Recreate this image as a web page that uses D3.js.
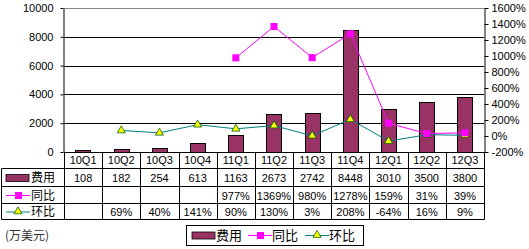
<!DOCTYPE html>
<html><head><meta charset="utf-8">
<script src="https://cdn.jsdelivr.net/npm/d3@7"></script>
<style>
body{margin:0;background:#fff;}
text{font-family:"Liberation Sans","DejaVu Sans",sans-serif;}
.cjk{font-family:"Noto Sans CJK SC",sans-serif;}
</style></head>
<body><svg id="c" width="529" height="249"></svg>
<script>
const categories = ["10Q1","10Q2","10Q3","10Q4","11Q1","11Q2","11Q3","11Q4","12Q1","12Q2","12Q3"];
const costValues = [108,182,254,613,1163,2673,2742,8448,3010,3500,3800];
const yoyValues = [null,null,null,null,977,1369,980,1278,159,31,39];
const qoqValues = [null,69,40,141,90,130,3,208,-64,16,9];
const leftTicks = [0,2000,4000,6000,8000,10000];
const rightTicks = [-200,0,200,400,600,800,1000,1200,1400,1600];
const seriesNames = ["费用","同比","环比"];
const unitLabel = "(万美元)";

const svg = d3.select("#c");
const L = 64, R = 484, T = 8, B = 152;
const x = d3.scaleBand().domain(categories).range([L, R]);
const yL = d3.scaleLinear().domain([0,10000]).range([B, T]);
const yR = d3.scaleLinear().domain([-200,1600]).range([B, T]);
const barColor = "#993366", yoyColor = "#FF00FF", qoqColor = "#008080";

// gridlines
svg.append("g").selectAll("line").data(leftTicks.filter(d=>d>0 && d<10000)).join("line")
  .attr("x1",L).attr("x2",R).attr("y1",d=>Math.round(yL(d))+0.5).attr("y2",d=>Math.round(yL(d))+0.5)
  .attr("stroke","#000");
svg.append("line").attr("x1",L).attr("x2",R).attr("y1",T+0.5).attr("y2",T+0.5).attr("stroke","#888");

// left axis
const gl = svg.append("g").attr("transform",`translate(${L-0.5},0)`)
  .call(d3.axisLeft(yL).tickValues(leftTicks).tickSize(3).tickSizeOuter(0).tickFormat(d3.format("d")));
gl.select(".domain").attr("stroke","#000");
gl.selectAll("text").attr("font-size",11).attr("fill","#000").attr("x",-10);
// right axis
const gr = svg.append("g").attr("transform",`translate(${R+0.5},0)`)
  .call(d3.axisRight(yR).tickValues(rightTicks).tickSize(4).tickSizeOuter(0).tickFormat(d=>d+"%"));
gr.select(".domain").attr("stroke","#000");
gr.selectAll("text").attr("font-size",11).attr("fill","#000").attr("x",7);

// bars
const bw = x.bandwidth()*0.4;
svg.append("g").selectAll("rect").data(costValues).join("rect")
  .attr("x",(d,i)=>Math.round(x(categories[i])+x.bandwidth()/2-bw/2)+0.5)
  .attr("y",d=>Math.round(yL(d))+0.5)
  .attr("width",Math.round(bw))
  .attr("height",d=>Math.max(0,B-Math.round(yL(d))))
  .attr("fill",barColor).attr("stroke","#000");

// lines
const cx = i => x(categories[i]) + x.bandwidth()/2;
const yoyPts = yoyValues.map((v,i)=>v==null?null:[cx(i),yR(v)]).filter(Boolean);
const qoqPts = qoqValues.map((v,i)=>v==null?null:[cx(i),yR(v)]).filter(Boolean);
svg.append("path").attr("d",d3.line()(qoqPts)).attr("fill","none").attr("stroke",qoqColor).attr("stroke-width",1);
svg.append("path").attr("d",d3.line()(yoyPts)).attr("fill","none").attr("stroke",yoyColor).attr("stroke-width",1);
const tri = d3.symbol().type(d3.symbolTriangle).size(28);
svg.append("g").selectAll("path").data(qoqPts).join("path")
  .attr("transform",d=>`translate(${d[0]},${d[1]})`).attr("d",tri())
  .attr("fill","#FFFF00").attr("stroke","#006000").attr("stroke-width",0.8);
svg.append("g").selectAll("rect").data(yoyPts).join("rect")
  .attr("x",d=>d[0]-3.5).attr("y",d=>d[1]-3.5).attr("width",7).attr("height",7)
  .attr("fill",yoyColor);

// axis bottom line
svg.append("line").attr("x1",L).attr("x2",R).attr("y1",B+0.5).attr("y2",B+0.5).attr("stroke","#000");

// table
const rows = [168.5,186.5,203.5,219.5];
const tg = svg.append("g");
rows.forEach(y=>tg.append("line").attr("x1",1.5).attr("x2",R+0.5).attr("y1",y).attr("y2",y).attr("stroke","#000"));
const edges = categories.map(c=>x(c)).concat([R]);
edges.forEach(e=>tg.append("line").attr("x1",Math.round(e)+0.5).attr("x2",Math.round(e)+0.5).attr("y1",B).attr("y2",219.5).attr("stroke","#000"));
tg.append("line").attr("x1",1.5).attr("x2",1.5).attr("y1",168.5).attr("y2",219.5).attr("stroke","#000");
tg.selectAll("text.cat").data(categories).join("text").attr("class","cat")
  .attr("x",d=>x(d)+x.bandwidth()/2).attr("y",164).attr("text-anchor","middle").attr("font-size",11).text(d=>d);
const rowData = [
  costValues.map(v=>String(v)),
  yoyValues.map(v=>v==null?"":v+"%"),
  qoqValues.map(v=>v==null?"":v+"%")
];
rowData.forEach((r,ri)=>{
  tg.selectAll(null).data(r).join("text")
    .attr("x",(d,i)=>cx(i)).attr("y",(rows[ri]+rows[ri+1])/2+4.5).attr("text-anchor","middle").attr("font-size",11).text(d=>d);
});
function swatch(g, kind, x0, y0){
  if(kind===0){
    g.append("rect").attr("x",x0).attr("y",y0-3).attr("width",23).attr("height",7).attr("fill",barColor).attr("stroke","#000").attr("stroke-width",0.8);
  } else if(kind===1){
    g.append("line").attr("x1",x0).attr("x2",x0+24).attr("y1",y0+0.5).attr("y2",y0+0.5).attr("stroke",yoyColor);
    g.append("rect").attr("x",x0+9).attr("y",y0-3).attr("width",7).attr("height",7).attr("fill",yoyColor);
  } else {
    g.append("line").attr("x1",x0).attr("x2",x0+24).attr("y1",y0+0.5).attr("y2",y0+0.5).attr("stroke",qoqColor);
    g.append("path").attr("transform",`translate(${x0+12},${y0})`).attr("d",tri()).attr("fill","#FFFF00").attr("stroke","#006000").attr("stroke-width",0.8);
  }
}
seriesNames.forEach((n,i)=>{
  const yc = (rows[i]+rows[i+1])/2;
  swatch(tg,i,6,yc);
  tg.append("text").attr("class","cjk").attr("x",31).attr("y",yc+4.5).attr("font-size",12).text(n);
});

svg.append("text").attr("class","cjk").attr("x",5).attr("y",240).attr("font-size",12).attr("fill","#333").text(unitLabel);

const lg = svg.append("g");
lg.append("rect").attr("x",186.5).attr("y",225.5).attr("width",177).attr("height",20).attr("fill","#fff").attr("stroke","#000");
const legX = [192,248,305];
seriesNames.forEach((n,i)=>{
  swatch(lg,i,legX[i],235);
  lg.append("text").attr("class","cjk").attr("x",legX[i]+24).attr("y",240).attr("font-size",13).text(n);
});
</script></body></html>
